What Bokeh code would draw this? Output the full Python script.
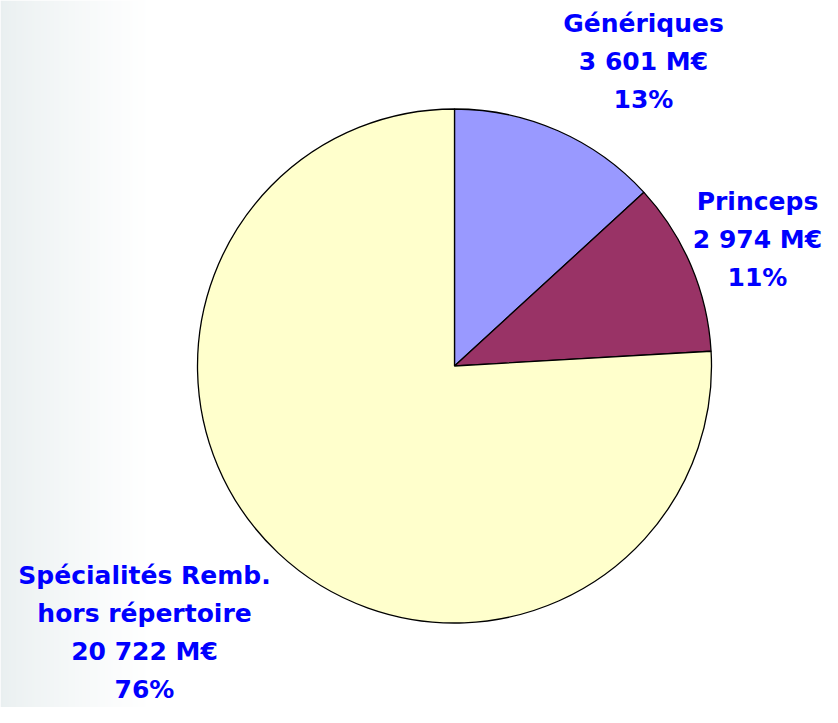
import numpy as np
from bokeh.plotting import figure
from bokeh.models import ColumnDataSource, Range1d
from bokeh.core.properties import value
from bokeh.embed import file_html
from bokeh.resources import INLINE

# ---- data ----
categories = ["Génériques", "Princeps", "Spécialités Remb.\nhors répertoire"]
amounts = [3601, 2974, 20722]          # M€
colors = ["#9999FF", "#993366", "#FFFFCC"]

W, H = 822, 707
p = figure(width=W, height=H, output_backend="svg", toolbar_location=None,
           x_range=Range1d(0, W), y_range=Range1d(0, H), min_border=0)
p.axis.visible = False
p.grid.visible = False
p.outline_line_color = None
p.background_fill_color = "white"
p.border_fill_color = "white"

# subtle left background gradient
gw = 150
img = np.zeros((1, gw), dtype=np.uint32)
view = img.view(dtype=np.uint8).reshape((1, gw, 4))
for i in range(gw):
    t = (i / (gw - 1)) ** 0.8
    view[0, i, 0] = int(round(233 + (255 - 233) * t))
    view[0, i, 1] = int(round(239 + (255 - 239) * t))
    view[0, i, 2] = int(round(240 + (255 - 240) * t))
    view[0, i, 3] = 255
p.image_rgba(image=[img], x=0, y=0, dw=gw, dh=H)

# ---- pie ----
total = sum(amounts)
fr = np.array(amounts) / total
cum = np.concatenate([[0], np.cumsum(fr)])
start = np.pi / 2 - cum[:-1] * 2 * np.pi
end = np.pi / 2 - cum[1:] * 2 * np.pi
cx, cy, r = 454, H - 365.5, 257
src = ColumnDataSource(dict(start=start, end=end, color=colors))
p.wedge(x=cx, y=cy, radius=r, start_angle="start", end_angle="end",
        direction="clock", fill_color="color", line_color="black",
        line_width=1.3, source=src)

# ---- labels ----
label_pos = [(643, H - 23), (757, H - 201), (144, H - 575)]
line_gap = 38
xs, ys, texts = [], [], []
for cat, amt, f, (lx, ly) in zip(categories, amounts, fr, label_pos):
    lines = cat.split("\n") + [f"{amt:,}".replace(",", " ") + " M€", f"{round(f * 100)}%"]
    for k, t in enumerate(lines):
        xs.append(lx)
        ys.append(ly - k * line_gap)
        texts.append(t)
lsrc = ColumnDataSource(dict(x=xs, y=ys, text=texts))
p.text(x="x", y="y", text="text", source=lsrc, text_align="center",
       text_baseline="middle", text_color="#0000FF",
       text_font=value("DejaVu Sans"), text_font_style="bold",
       text_font_size="25px")

open("out.html", "w").write(file_html(p, INLINE))
